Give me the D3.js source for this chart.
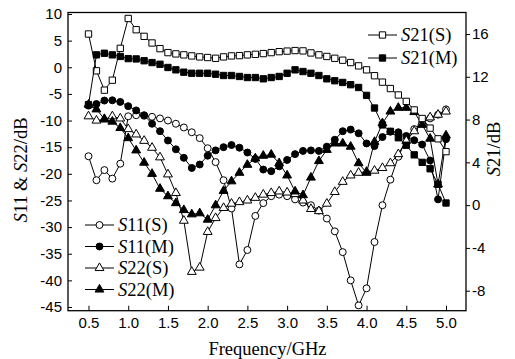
<!DOCTYPE html>
<html>
<head>
<meta charset="utf-8">
<script src="https://cdn.jsdelivr.net/npm/d3@7"></script>
<style>
body { margin: 0; background: #fff; }
.tick text { font-family: Arial, "Liberation Sans", sans-serif; font-size: 15px; fill: #000; }
.tick line { stroke: #000; stroke-width: 1; }
.ttl { font-family: "Times New Roman", "Liberation Serif", serif; font-size: 18.5px; fill: #000; }
</style>
</head>
<body>
<svg width="515" height="359"></svg>
<script>
// frequency points (GHz)
var freq = [0.5,0.6,0.7,0.8,0.9,1.0,1.1,1.2,1.3,1.4,1.5,1.6,1.7,1.8,1.9,2.0,2.1,2.2,2.3,2.4,2.5,2.6,2.7,2.8,2.9,3.0,
            3.1,3.2,3.3,3.4,3.5,3.6,3.7,3.8,3.9,4.0,4.1,4.2,4.3,4.4,4.5,4.6,4.7,4.8,4.9,5.0];

// left axis (dB)
var s11S = [-16.7,-21.2,-19.3,-20.9,-18.1,-9.2,-9.0,-9.1,-9.3,-9.6,-10.0,-10.6,-11.3,-12.2,-13.3,-15.2,-17.8,-21.2,-26.5,-37.0,
            -34.3,-27.9,-25.5,-24.2,-23.9,-24.2,-24.8,-25.4,-25.9,-26.9,-28.4,-30.8,-34.7,-40.0,-44.7,-41.5,-32.8,-25.9,-21.1,-16.8,
            -13.5,-11.6,-10.4,-9.6,-8.9,-7.9];
var s11M = [-7.2,-6.9,-6.25,-6.2,-6.5,-7.3,-8.1,-9.0,-10.6,-12.0,-13.75,-15.4,-17.0,-18.9,-18.25,-16.6,-15.6,-15.0,-14.6,-15.1,
            -16.0,-17.2,-19.2,-19.5,-18.6,-17.4,-16.3,-15.7,-15.6,-15.7,-14.9,-13.6,-12.0,-11.7,-12.4,-14.3,-14.8,-13.1,-12.1,-12.2,
            -12.9,-13.7,-14.5,-17.5,-24.8,-13.5];
var s22S = [-9.2,-10.0,-9.8,-9.2,-9.6,-11.6,-12.6,-13.8,-15.1,-16.9,-20.1,-23.6,-28.8,-38.4,-37.6,-30.9,-28.3,-26.4,-25.6,-25.3,
            -25.0,-24.5,-23.9,-23.6,-23.3,-23.5,-23.8,-25.0,-26.6,-27.0,-25.6,-23.4,-21.5,-20.3,-19.8,-19.6,-19.4,-18.9,-18.0,-16.3,
            -13.8,-12.0,-10.4,-9.4,-8.9,-8.3];
var s22M = [-7.0,-7.9,-9.7,-10.2,-11.4,-13.3,-15.6,-17.9,-20.0,-22.8,-24.2,-25.5,-26.8,-27.6,-27.4,-28.6,-25.9,-23.2,-21.4,-19.8,
            -18.3,-17.1,-16.6,-16.4,-18.0,-20.3,-23.3,-24.0,-20.7,-17.6,-15.5,-14.3,-14.3,-14.9,-18.0,-19.8,-14.0,-10.5,-8.3,-7.6,
            -7.6,-8.4,-10.8,-13.4,-22.0,-12.8];

// right axis (dB)
var s21S = [16.0,12.56,10.75,11.68,14.66,17.45,16.4,15.78,15.16,14.63,14.26,14.14,14.05,13.95,13.86,13.8,13.73,13.86,13.95,13.98,
            14.05,14.1,14.17,14.26,14.35,14.4,14.45,14.42,14.23,14.05,13.9,13.73,13.55,13.33,13.02,12.65,12.1,11.5,10.9,10.3,
            9.7,8.9,8.1,7.2,6.2,5.0];
var s21M = [9.4,14.05,14.2,14.05,13.9,13.7,13.67,13.5,13.33,13.17,12.87,12.65,12.43,12.33,12.33,12.33,12.24,12.12,12.12,12.03,
            11.93,11.93,11.81,11.93,12.03,12.33,12.65,12.49,12.33,12.12,11.81,11.63,11.47,11.26,11.0,10.26,9.08,7.5,6.9,6.3,
            5.6,4.7,4.0,3.4,1.95,0.2];

var xTicks = [0.5,1.0,1.5,2.0,2.5,3.0,3.5,4.0,4.5,5.0];
var leftTicks = [10,5,0,-5,-10,-15,-20,-25,-30,-35,-40,-45];
var rightTicks = [16,12,8,4,0,-4,-8];

var svg = d3.select("svg");
var frame = {left: 68, right: 466, top: 12.5, bottom: 310.7};

var x = d3.scaleLinear().domain([0.5, 5]).range([88.5, 446]);
var yL = d3.scaleLinear().domain([-45, 10]).range([307, 14]);
var yR = d3.scaleLinear().domain([-8, 16]).range([290.7, 34]);

svg.append("rect").attr("width", 515).attr("height", 359).attr("fill", "#fff");

// axes
svg.append("g")
    .attr("transform", "translate(" + frame.left + ",0)")
    .call(d3.axisLeft(yL).tickValues(leftTicks).tickSize(-4).tickPadding(6).tickFormat(function(d) { return String(d); }))
    .call(function(g) { g.select(".domain").remove(); });
svg.append("g")
    .attr("transform", "translate(0," + frame.bottom + ")")
    .call(d3.axisBottom(x).tickValues(xTicks).tickSize(-5).tickPadding(7).tickFormat(function(d) { return d.toFixed(1); }))
    .call(function(g) { g.select(".domain").remove(); });
svg.append("g")
    .attr("transform", "translate(" + frame.right + ",0)")
    .call(d3.axisRight(yR).tickValues(rightTicks).tickSize(4).tickPadding(2).tickFormat(function(d) { return String(d); }))
    .call(function(g) { g.select(".domain").remove(); });

svg.append("rect")
    .attr("x", frame.left).attr("y", frame.top)
    .attr("width", frame.right - frame.left).attr("height", frame.bottom - frame.top)
    .attr("fill", "none").attr("stroke", "#000").attr("stroke-width", 1.3);

var series = [
    {name: "11(S)", values: s11S, y: yL, shape: d3.symbolCircle, size: 38, fill: "#fff"},
    {name: "11(M)", values: s11M, y: yL, shape: d3.symbolCircle, size: 38, fill: "#000"},
    {name: "22(S)", values: s22S, y: yL, shape: d3.symbolTriangle, size: 34, fill: "#fff"},
    {name: "22(M)", values: s22M, y: yL, shape: d3.symbolTriangle, size: 34, fill: "#000"},
    {name: "21(S)", values: s21S, y: yR, shape: d3.symbolSquare, size: 40, fill: "#fff"},
    {name: "21(M)", values: s21M, y: yR, shape: d3.symbolSquare, size: 40, fill: "#000"}
];

series.forEach(function(s) {
    var line = d3.line()
        .x(function(d, i) { return x(freq[i]); })
        .y(function(d) { return s.y(d); });
    var g = svg.append("g");
    g.append("path")
        .attr("d", line(s.values))
        .attr("fill", "none").attr("stroke", "#000").attr("stroke-width", 1);
    g.selectAll("path.mk").data(s.values).enter().append("path")
        .attr("class", "mk")
        .attr("d", d3.symbol().type(s.shape).size(s.size))
        .attr("transform", function(d, i) { return "translate(" + x(freq[i]) + "," + s.y(d) + ")"; })
        .attr("fill", s.fill).attr("stroke", "#000").attr("stroke-width", 1);
});

// legends
function legend(items, x0, y0, dy) {
    items.forEach(function(s, i) {
        var yy = y0 + i * dy;
        var g = svg.append("g");
        g.append("line").attr("x1", x0).attr("x2", x0 + 29).attr("y1", yy).attr("y2", yy)
            .attr("stroke", "#000").attr("stroke-width", 1);
        g.append("path").attr("d", d3.symbol().type(s.shape).size(s.size))
            .attr("transform", "translate(" + (x0 + 14.5) + "," + yy + ")")
            .attr("fill", s.fill).attr("stroke", "#000");
        var t = g.append("text").attr("class", "ttl").attr("x", x0 + 33).attr("y", yy + 6);
        t.append("tspan").attr("font-style", "italic").text("S");
        t.append("tspan").text(s.name);
    });
}
legend(series.slice(4), 368, 35, 23);
legend(series.slice(0, 4), 85, 225, 21.5);

// titles
svg.append("text").attr("class", "ttl").attr("x", 267.5).attr("y", 355).attr("text-anchor", "middle")
    .text("Frequency/GHz");

var lt = svg.append("text").attr("class", "ttl").attr("text-anchor", "middle")
    .attr("transform", "translate(27,170) rotate(-90)");
lt.append("tspan").attr("font-style", "italic").text("S");
lt.append("tspan").text("11 & ");
lt.append("tspan").attr("font-style", "italic").text("S");
lt.append("tspan").text("22/dB");

var rt = svg.append("text").attr("class", "ttl").attr("text-anchor", "middle")
    .attr("transform", "translate(500,149) rotate(-90)");
rt.append("tspan").attr("font-style", "italic").text("S");
rt.append("tspan").text("21/dB");
</script>
</body>
</html>
